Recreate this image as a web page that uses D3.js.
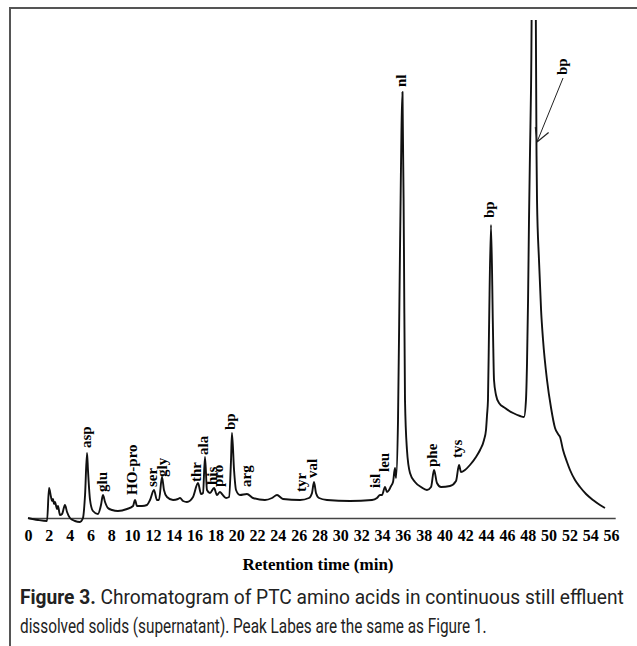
<!DOCTYPE html>
<html>
<head>
<meta charset="utf-8">
<script src="https://cdn.jsdelivr.net/npm/d3@7"></script>
<style>
  html, body { margin: 0; padding: 0; background: #fff; }
  svg { display: block; }
</style>
</head>
<body>
<svg id="chart" width="637" height="646"></svg>
<script>
// Retention time (min) and detector signal (arbitrary units)
const times = [0.00,0.96,1.83,2.02,2.21,2.31,2.40,2.50,2.59,2.79,2.88,3.07,3.27,3.55,3.75,4.03,4.51,4.99,5.28,5.48,5.67,5.76,5.96,6.24,6.72,7.01,7.20,7.40,7.68,8.07,8.64,9.51,10.09,10.28,10.47,10.95,11.43,11.72,12.10,12.39,12.58,12.87,13.06,13.35,13.93,14.41,14.60,14.89,15.27,15.85,16.33,16.62,16.81,17.00,17.19,17.48,17.87,18.15,18.44,18.63,19.02,19.31,19.50,19.59,19.79,19.98,20.36,21.03,21.61,22.76,23.44,23.92,24.49,26.13,26.99,27.28,27.47,27.66,27.95,28.72,30.93,33.04,33.52,33.81,34.00,34.29,34.48,34.68,34.87,35.06,35.25,35.35,35.54,35.73,35.97,36.11,36.21,36.40,36.69,37.17,37.75,38.32,38.71,39.00,39.28,39.67,40.53,41.11,41.40,41.59,41.97,42.45,43.03,43.42,43.80,43.99,44.09,44.18,44.28,44.47,44.66,44.76,44.95,45.24,45.82,46.59,47.26,47.64,47.83,47.93,48.03,48.12,48.22,48.32,48.60,48.84,48.89,49.08,49.28,49.47,49.85,50.24,50.62,50.91,51.10,51.39,51.77,52.06,52.54,53.02,53.60,54.27,54.94,55.42];
const signal = [0.0,-0.4,-0.6,6.0,4.2,3.4,3.8,2.8,3.2,1.8,2.4,0.6,0.8,2.6,1.2,0.0,-0.6,-0.8,0.0,4.6,13.0,9.6,3.6,1.4,0.8,2.6,4.6,3.2,2.0,1.6,1.4,1.8,2.4,3.6,2.4,2.4,2.6,3.6,5.6,3.6,3.6,8.2,5.6,4.2,3.6,3.8,4.0,3.4,3.2,4.2,7.0,4.8,5.0,12.2,5.6,5.0,6.0,4.6,5.2,4.8,4.0,4.2,11.6,17.0,9.6,5.6,4.6,4.8,4.0,3.6,4.0,4.6,3.8,3.6,4.0,5.0,7.2,5.0,4.0,3.6,3.4,3.6,4.0,4.6,4.6,6.2,5.2,5.6,6.4,7.2,10.0,8.0,19.6,53.6,85.2,53.6,23.6,13.6,9.0,7.2,6.2,5.6,6.2,9.6,7.0,6.2,6.4,7.4,10.6,9.2,9.6,10.6,12.2,13.6,15.6,17.6,20.6,23.6,37.6,58.6,37.6,27.6,24.6,23.0,22.0,21.0,20.4,20.2,23.6,31.0,43.6,59.6,73.6,86.6,163.6,73.6,63.6,51.6,41.6,35.6,27.6,22.0,18.0,16.8,16.2,13.6,11.2,9.6,7.6,6.2,4.8,3.6,2.6,2.0];

// Peak labels: name, retention time of label, signal level at label foot
const labelNames   = ["asp","glu","HO-pro","ser","gly","thr","ala","his","pro","bp","arg","tyr","val","isl","leu","nl","phe","tys","bp","bp"];
const labelTimes   = [5.67,7.20,10.09,12.01,12.97,16.23,16.91,17.77,18.35,19.50,21.04,26.32,27.37,33.43,34.29,35.92,38.90,41.30,44.38,51.39];
const labelSignals = [14.0,5.2,4.6,6.2,8.2,7.2,12.6,6.6,6.2,17.6,6.2,5.2,8.0,6.0,9.2,86.2,10.2,12.0,60.0,88.6];

// Arrow pointing at the main bp peak: [start, end] in (time, signal)
const arrowTimes   = [51.39, 48.89];
const arrowSignals = [88.0, 75.2];

const tickValues = d3.range(0, 57, 2);
const xTitle = "Retention time (min)";
const captionBold = "Figure 3.";
const captionLine1 = " Chromatogram of PTC amino acids in continuous still effluent";
const captionLine2 = "dissolved solids (supernatant). Peak Labes are the same as Figure 1.";

const svg = d3.select("#chart");

const x = d3.scaleLinear().domain([0, 56.4]).range([28, 615.2]);
const y = d3.scaleLinear().domain([0, 100]).range([518, 18]);

// frame
svg.append("line").attr("x1", 9).attr("x2", 637).attr("y1", 8).attr("y2", 8)
  .attr("stroke", "#555").attr("stroke-width", 2);
svg.append("line").attr("x1", 10).attr("x2", 10).attr("y1", 7).attr("y2", 646)
  .attr("stroke", "#555").attr("stroke-width", 2);

// clip
svg.append("defs").append("clipPath").attr("id", "plotclip")
  .append("rect").attr("x", 0).attr("y", 20).attr("width", 637).attr("height", 626);

// axis
const axis = d3.axisBottom(x).tickValues(tickValues).tickSize(0).tickSizeOuter(0).tickPadding(12)
  .tickFormat(d3.format("d"));
const gAxis = svg.append("g").attr("transform", `translate(0,${y(0)})`).call(axis);
gAxis.select(".domain").attr("stroke", "#444").attr("stroke-width", 1.6);
gAxis.selectAll("text")
  .attr("font-family", "'Liberation Serif', 'DejaVu Serif', serif")
  .attr("font-weight", "bold").attr("font-size", 16).attr("fill", "#000");

// trace
const pts = times.map((t, i) => [t, signal[i]]);
const line = d3.line().x(d => x(d[0])).y(d => y(d[1])).curve(d3.curveMonotoneX);
svg.append("path").datum(pts)
  .attr("clip-path", "url(#plotclip)")
  .attr("d", line).attr("fill", "none").attr("stroke", "#111")
  .attr("stroke-width", 1.9).attr("stroke-linejoin", "round");

// labels
const gl = svg.append("g");
labelNames.forEach((name, i) => {
  gl.append("text")
    .attr("transform", `translate(${x(labelTimes[i]) + 4},${y(labelSignals[i])}) rotate(-90)`)
    .attr("text-anchor", "start")
    .attr("font-family", "'Liberation Serif', 'DejaVu Serif', serif")
    .attr("font-weight", "bold").attr("font-size", 15).attr("fill", "#000")
    .text(name);
});

// arrow
const ax0 = x(arrowTimes[0]), ay0 = y(arrowSignals[0]);
const ax1 = x(arrowTimes[1]), ay1 = y(arrowSignals[1]);
svg.append("line").attr("x1", ax0).attr("y1", ay0).attr("x2", ax1).attr("y2", ay1)
  .attr("stroke", "#222").attr("stroke-width", 1);
const ang = Math.atan2(ay0 - ay1, ax0 - ax1);
[0.5, -0.5].forEach(da => {
  svg.append("line").attr("x1", ax1).attr("y1", ay1)
    .attr("x2", ax1 + 15 * Math.cos(ang + da)).attr("y2", ay1 + 15 * Math.sin(ang + da))
    .attr("stroke", "#222").attr("stroke-width", 1.2);
});

// axis title
svg.append("text").attr("x", 318).attr("y", 570).attr("text-anchor", "middle")
  .attr("font-family", "'Liberation Serif', 'DejaVu Serif', serif")
  .attr("font-weight", "bold").attr("font-size", 17).attr("fill", "#000")
  .text(xTitle);

// caption: condensed by a horizontal scale fitted to the measured width
function fitLine(yPos, targetWidth, build) {
  const g = svg.append("g");
  const t = g.append("text").attr("x", 0).attr("y", 0)
    .attr("font-family", "Roboto, 'Open Sans', sans-serif").attr("font-size", 20).attr("fill", "#222");
  build(t);
  const w = t.node().getComputedTextLength();
  const s = targetWidth / w;
  g.attr("transform", `translate(20,${yPos}) scale(${s},1)`);
}
fitLine(604, 604, t => {
  t.append("tspan").attr("font-weight", "bold").text(captionBold);
  t.append("tspan").text(captionLine1);
});
fitLine(633, 467, t => t.text(captionLine2));
</script>
</body>
</html>
